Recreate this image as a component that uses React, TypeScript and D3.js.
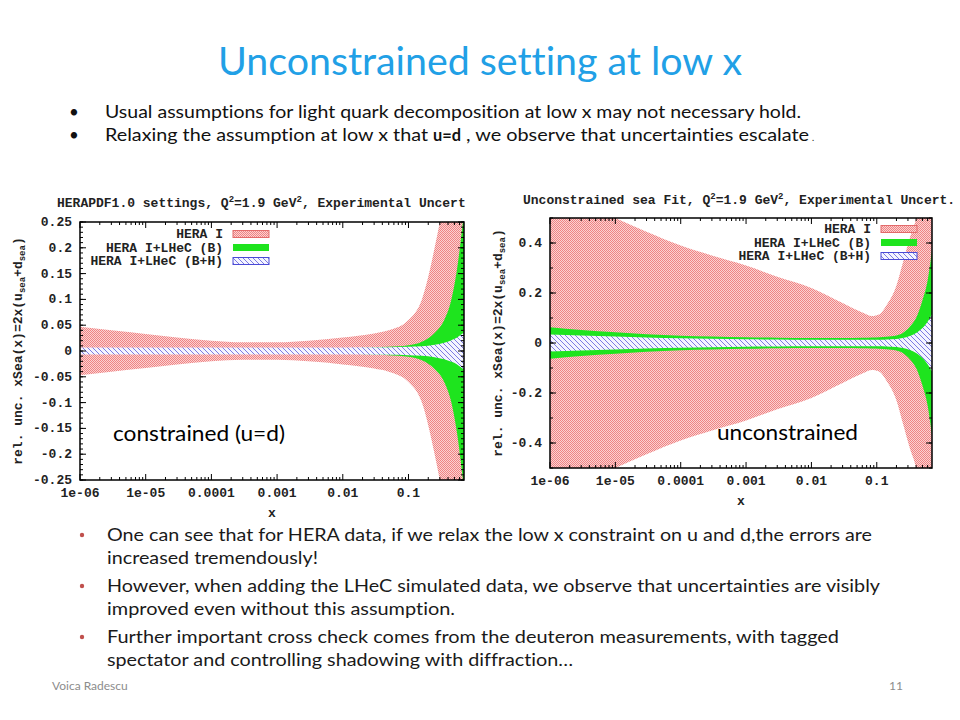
import * as d3 from 'd3';

// x grid (shared shape of the bands), half-widths
const xsLeft = [1e-6, 3e-6, 1e-5, 3e-5, 1e-4, 3e-4, 1e-3, 3e-3, 0.01, 0.03, 0.05, 0.1, 0.16, 0.25, 0.35, 0.45, 0.55, 0.62, 0.7];
const heraLeft = [0.047, 0.04, 0.033, 0.026, 0.02, 0.017, 0.017, 0.02, 0.026, 0.034, 0.04, 0.06, 0.1, 0.2, 0.3, 0.4, 0.5, 0.55, 0.6];
const lhecBLeft = [0.004, 0.004, 0.004, 0.004, 0.004, 0.004, 0.004, 0.0045, 0.005, 0.007, 0.008, 0.011, 0.018, 0.035, 0.06, 0.1, 0.16, 0.21, 0.27];
const lhecBHLeft = [0.007, 0.007, 0.007, 0.007, 0.007, 0.007, 0.007, 0.007, 0.007, 0.0072, 0.0075, 0.008, 0.009, 0.012, 0.016, 0.021, 0.026, 0.031, 0.036];

const xsRight = [1e-6, 3e-6, 1e-5, 3e-5, 1e-4, 3e-4, 1e-3, 3e-3, 0.01, 0.03, 0.06, 0.085, 0.11, 0.14, 0.2, 0.25, 0.32, 0.4, 0.5, 0.6, 0.7];
const heraRight = [0.62, 0.56, 0.5, 0.445, 0.39, 0.35, 0.31, 0.265, 0.22, 0.16, 0.122, 0.108, 0.115, 0.15, 0.23, 0.32, 0.42, 0.5, 0.65, 0.8, 0.9];
const lhecBRight = [0.063, 0.052, 0.043, 0.035, 0.029, 0.026, 0.023, 0.021, 0.02, 0.02, 0.021, 0.022, 0.023, 0.025, 0.03, 0.04, 0.065, 0.1, 0.17, 0.25, 0.37];
const lhecBHRight = [0.034, 0.03, 0.026, 0.022, 0.019, 0.017, 0.015, 0.014, 0.013, 0.013, 0.013, 0.013, 0.013, 0.014, 0.016, 0.02, 0.028, 0.04, 0.06, 0.085, 0.115];

const xTicks = [1e-6, 1e-5, 1e-4, 1e-3, 0.01, 0.1];
const xTickLabels = ['1e-06', '1e-05', '0.0001', '0.001', '0.01', '0.1'];
const yTicksLeft = [-0.25, -0.2, -0.15, -0.1, -0.05, 0, 0.05, 0.1, 0.15, 0.2, 0.25];
const yTickLabelsLeft = ['-0.25', '-0.2', '-0.15', '-0.1', '-0.05', '0', '0.05', '0.1', '0.15', '0.2', '0.25'];
const yTicksRight = [-0.4, -0.2, 0, 0.2, 0.4];
const yTickLabelsRight = ['-0.4', '-0.2', '0', '0.2', '0.4'];
const legendNames = ['HERA I', 'HERA I+LHeC (B)', 'HERA I+LHeC (B+H)'];

const topBullets = [
  'Usual assumptions for light quark decomposition at low x may not necessary hold.',
];
const bottomBullets = [
  ['One can see that for HERA data, if we relax the low x constraint on u and d,the errors are', 'increased tremendously!'],
  ['However, when adding the LHeC simulated data, we observe that uncertainties are visibly', 'improved even without this assumption.'],
  ['Further important cross check comes from the deuteron measurements, with tagged', 'spectator and controlling shadowing with diffraction\u2026'],
];
const bottomWidths = [[765, 211], [773, 348], [732, 466]];

const MONO = '"Liberation Mono", "DejaVu Sans Mono", monospace';
const SANS = 'Lato, "Open Sans", sans-serif';
const noLig = { fontVariantLigatures: 'none' as const };

interface ChartProps {
  left: number;
  top: number;
  width: number;
  height: number;
  yDomain: [number, number];
  yTicks: number[];
  yTickLabels: string[];
  yMinorStep: number;
  xs: number[];
  hera: number[];
  lhecB: number[];
  lhecBH: number[];
  titleA: string;
  titleB: string;
  titleX: number;
  titleY: number;
  legendX: number;
  legendY: number;
  note: string;
  noteX: number;
  noteY: number;
  noteW: number;
  yLabelX: number;
  xLabelY: number;
  id: string;
}

const Chart = (p: ChartProps) => {
  const x = d3.scaleLog().domain([1e-6, 0.7]).range([p.left, p.left + p.width]);
  const y = d3.scaleLinear().domain(p.yDomain).range([p.top + p.height, p.top]);
  const band = (hw: number[]) =>
    d3
      .area<number>()
      .x((_, i) => x(p.xs[i]))
      .y0(d => y(-d))
      .y1(d => y(d))
      .curve(d3.curveMonotoneX)(hw) || '';

  const minorX: number[] = [];
  for (let e = -6; e <= -1; e++) {
    for (let k = 2; k <= 9; k++) {
      const v = k * Math.pow(10, e);
      if (v < 0.7) minorX.push(v);
    }
  }
  const minorY: number[] = [];
  const [y0, y1] = p.yDomain;
  for (let v = Math.ceil(y0 / p.yMinorStep - 1e-9) * p.yMinorStep; v <= y1 + 1e-9; v += p.yMinorStep) {
    minorY.push(v);
  }
  const bottom = p.top + p.height;
  const right = p.left + p.width;
  const fills = [`url(#redDots)`, '#1ee41e', `url(#blueHatch)`];
  const strokes = ['#e36b6b', 'none', '#4a4ad6'];

  return (
    <g>
      <clipPath id={`clip-${p.id}`}>
        <rect x={p.left} y={p.top} width={p.width} height={p.height} />
      </clipPath>
      <g clipPath={`url(#clip-${p.id})`}>
        <path d={band(p.hera)} fill="url(#redDots)" />
        <path d={band(p.lhecB)} fill="#1ee41e" />
        <path d={band(p.lhecBH)} fill="url(#blueHatch)" />
      </g>

      {/* ticks on all four sides, inward */}
      <g stroke="#000" strokeWidth={1}>
        {xTicks.map(t => (
          <g key={`xt${t}`}>
            <line x1={x(t)} x2={x(t)} y1={bottom} y2={bottom - 6} />
            <line x1={x(t)} x2={x(t)} y1={p.top} y2={p.top + 6} />
          </g>
        ))}
        {minorX.map(t => (
          <g key={`xm${t}`}>
            <line x1={x(t)} x2={x(t)} y1={bottom} y2={bottom - 3} />
            <line x1={x(t)} x2={x(t)} y1={p.top} y2={p.top + 3} />
          </g>
        ))}
        {p.yTicks.map(t => (
          <g key={`yt${t}`}>
            <line x1={p.left} x2={p.left + 6} y1={y(t)} y2={y(t)} />
            <line x1={right} x2={right - 6} y1={y(t)} y2={y(t)} />
          </g>
        ))}
        {minorY.map(t => (
          <g key={`ym${t.toFixed(3)}`}>
            <line x1={p.left} x2={p.left + 3} y1={y(t)} y2={y(t)} />
            <line x1={right} x2={right - 3} y1={y(t)} y2={y(t)} />
          </g>
        ))}
      </g>
      <rect x={p.left} y={p.top} width={p.width} height={p.height} fill="none" stroke="#000" strokeWidth={1.5} />

      <g fontFamily={MONO} fontSize={13} fontWeight="bold" fill="#222">
        {xTicks.map((t, i) => (
          <text key={`xl${t}`} x={x(t)} y={bottom + 17} textAnchor="middle">
            {xTickLabels[i]}
          </text>
        ))}
        {p.yTicks.map((t, i) => (
          <text key={`yl${t}`} x={p.left - 8} y={y(t) + 4} textAnchor="end">
            {p.yTickLabels[i]}
          </text>
        ))}
        <text x={p.left + p.width / 2} y={p.xLabelY} textAnchor="middle">x</text>
        <text
          transform={`translate(${p.yLabelX}, ${p.top + p.height / 2}) rotate(-90)`}
          textAnchor="middle"
        >
          rel. unc. xSea(x)=2x(u
          <tspan fontSize={9} dy={3}>sea</tspan>
          <tspan dy={-3}>+d</tspan>
          <tspan fontSize={9} dy={3}>sea</tspan>
          <tspan dy={-3}>)</tspan>
        </text>
        <text x={p.titleX} y={p.titleY}>
          {p.titleA}Q<tspan fontSize={9} dy={-5}>2</tspan>
          <tspan dy={5}>=1.9 GeV</tspan>
          <tspan fontSize={9} dy={-5}>2</tspan>
          <tspan dy={5}>{p.titleB}</tspan>
        </text>
        {legendNames.map((name, i) => (
          <g key={name}>
            <text x={p.legendX} y={p.legendY + i * 13.5 + 4} textAnchor="end">
              {name}
            </text>
            <rect
              x={p.legendX + 10}
              y={p.legendY + i * 13.5 - 3.5}
              width={36}
              height={7}
              fill={fills[i]}
              stroke={strokes[i]}
              strokeWidth={1}
            />
          </g>
        ))}
      </g>
      <text
        x={p.noteX}
        y={p.noteY}
        fontFamily={SANS}
        fontSize={21}
        fill="#000"
        style={noLig}
        textLength={p.noteW}
        lengthAdjust="spacingAndGlyphs"
      >
        {p.note}
      </text>
    </g>
  );
};

const App = () => {
  return (
    <svg
      width={960}
      height={720}
      viewBox="0 0 960 720"
      style={{ position: 'absolute', left: 0, top: 0, background: '#fff' }}
    >
      <defs>
        <pattern id="redDots" width={2} height={2} patternUnits="userSpaceOnUse">
          <rect width={2} height={2} fill="#fbd2d2" />
          <rect width={1} height={1} fill="#ef8484" />
          <rect x={1} y={1} width={1} height={1} fill="#ef8484" />
        </pattern>
        <pattern id="blueHatch" width={5} height={5} patternUnits="userSpaceOnUse">
          <rect width={5} height={5} fill="#f4f4ff" />
          <path d="M-1,-1 L6,6 M-1,4 L1,6 M4,-1 L6,1" stroke="#7b7be2" strokeWidth={1} />
        </pattern>
      </defs>

      <text
        x={218}
        y={75}
        fontFamily={SANS}
        fontSize={38}
        fill="#21a0e6"
        style={noLig}
        textLength={524}
        lengthAdjust="spacingAndGlyphs"
      >
        Unconstrained setting at low x
      </text>

      <g fontFamily={SANS} fontSize={17} fill="#111" style={noLig}>
        <text x={69} y={118}>•</text>
        <text x={105} y={118} textLength={696} lengthAdjust="spacingAndGlyphs">
          {topBullets[0]}
        </text>
        <text x={69} y={141}>•</text>
        <text x={105} y={141} textLength={323} lengthAdjust="spacingAndGlyphs">
          Relaxing the assumption at low x that
        </text>
        <text x={433} y={141} fontWeight="bold" textLength={28} lengthAdjust="spacingAndGlyphs">
          u=d
        </text>
        <text x={466} y={141} textLength={343} lengthAdjust="spacingAndGlyphs">
          , we observe that uncertainties escalate
        </text>
        <text x={812} y={141} fontSize={9}>.</text>
      </g>

      <Chart
        left={80}
        top={222}
        width={384}
        height={258}
        yDomain={[-0.25, 0.25]}
        yTicks={yTicksLeft}
        yTickLabels={yTickLabelsLeft}
        yMinorStep={0.01}
        xs={xsLeft}
        hera={heraLeft}
        lhecB={lhecBLeft}
        lhecBH={lhecBHLeft}
        titleA="HERAPDF1.0 settings, "
        titleB=", Experimental Uncert"
        titleX={57}
        titleY={207}
        legendX={223}
        legendY={234}
        note="constrained (u=d)"
        noteX={113}
        noteY={441}
        noteW={172}
        yLabelX={22}
        xLabelY={517}
        id="l"
      />
      <Chart
        left={550}
        top={218}
        width={382}
        height={250}
        yDomain={[-0.5, 0.5]}
        yTicks={yTicksRight}
        yTickLabels={yTickLabelsRight}
        yMinorStep={0.1}
        xs={xsRight}
        hera={heraRight}
        lhecB={lhecBRight}
        lhecBH={lhecBHRight}
        titleA="Unconstrained sea Fit, "
        titleB=", Experimental Uncert."
        titleX={523}
        titleY={204}
        legendX={871}
        legendY={229}
        note="unconstrained"
        noteX={717}
        noteY={440}
        noteW={141}
        yLabelX={502}
        xLabelY={505}
        id="r"
      />

      <g fontFamily={SANS} fontSize={17} fill="#1a1a1a" style={noLig}>
        {bottomBullets.map((lines, i) => (
          <g key={i}>
            <circle cx={82} cy={535 + i * 51} r={2.2} fill="#c0504d" />
            {lines.map((line, j) => (
              <text
                key={j}
                x={107}
                y={541 + i * 51 + j * 23}
                textLength={bottomWidths[i][j]}
                lengthAdjust="spacingAndGlyphs"
              >
                {line}
              </text>
            ))}
          </g>
        ))}
      </g>

      <text x={52} y={690} fontFamily={SANS} fontSize={12} fill="#8c8c8c">Voica Radescu</text>
      <text x={903} y={690} fontFamily={SANS} fontSize={12} fill="#8c8c8c" textAnchor="end">11</text>
    </svg>
  );
};

export default App;
